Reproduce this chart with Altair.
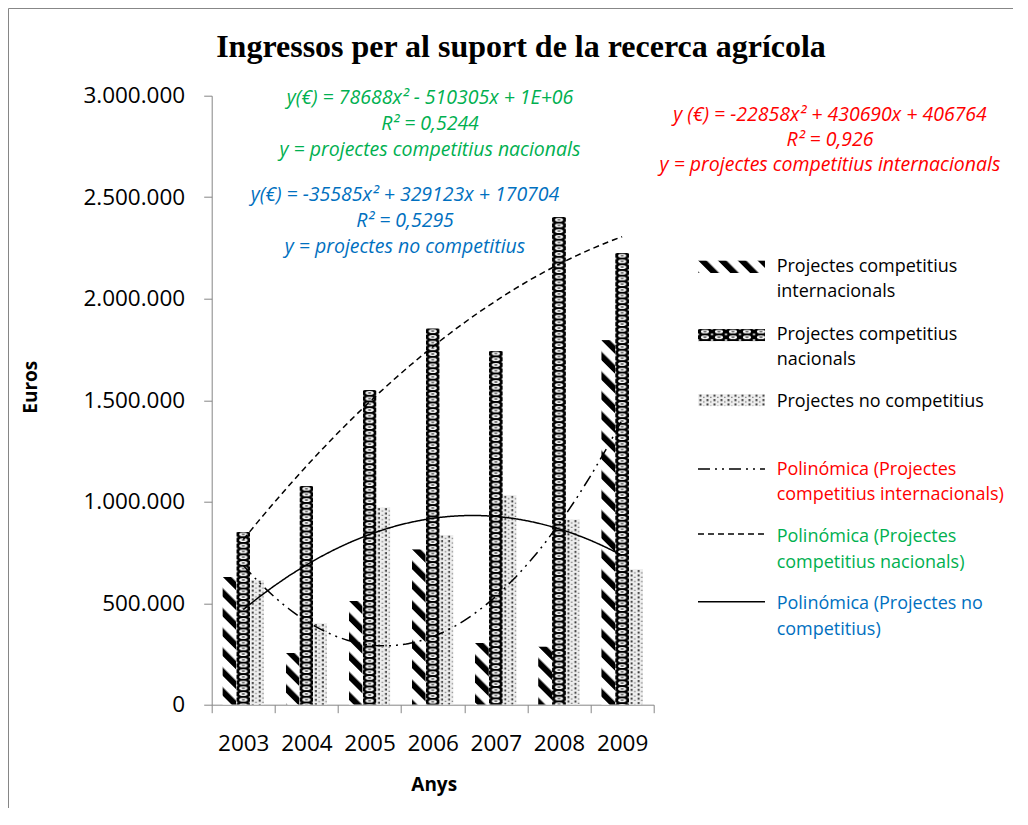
import base64
import altair as alt
import pandas as pd

# ---------------- data ----------------
years = [2003, 2004, 2005, 2006, 2007, 2008, 2009]
internacionals = [631000, 257000, 513000, 766000, 304000, 287000, 1796000]
nacionals = [853000, 1078000, 1550000, 1854000, 1744000, 2403000, 2226000]
no_competitius = [615000, 402000, 973000, 837000, 1033000, 914000, 668000]
series_names = [
    "Projectes competitius internacionals",
    "Projectes competitius nacionals",
    "Projectes no competitius",
]
y_ticks = [0, 500000, 1000000, 1500000, 2000000, 2500000, 3000000]

title_text = "Ingressos per al suport de la recerca agrícola"
eq_nac = ["y(€) = 78688x² - 510305x + 1E+06", "R² = 0,5244",
          "y = projectes competitius nacionals"]
eq_noc = ["y(€) = -35585x² + 329123x + 170704", "R² = 0,5295",
          "y = projectes no competitius"]
eq_int = ["y (€) = -22858x² + 430690x + 406764", "R² = 0,926",
          "y  = projectes competitius internacionals"]
legend_bar_labels = [["Projectes competitius", "internacionals"],
                     ["Projectes competitius", "nacionals"],
                     ["Projectes no competitius"]]
legend_trend_labels = [["Polinómica (Projectes", "competitius internacionals)"],
                       ["Polinómica (Projectes", "competitius nacionals)"],
                       ["Polinómica (Projectes no", "competitius)"]]

rows = []
for s, vals in zip(series_names, [internacionals, nacionals, no_competitius]):
    for yr, v in zip(years, vals):
        rows.append({"year": yr, "series": s, "value": v})
df = pd.DataFrame(rows)

# ---------------- styles ----------------
FONT = "Open Sans"
GREY = "#868686"
RED, GREEN, BLUE = "#FF0000", "#00B050", "#0070C0"
trend_colors = [RED, GREEN, BLUE]
dashes = [[12, 5, 2, 5, 2, 5], [6, 4], [1, 0]]


def svg_uri(inner):
    svg = ('<svg xmlns="http://www.w3.org/2000/svg"><defs>' + inner +
           '</defs><rect x="0" y="0" width="100%" height="100%" fill="url(#p)"/></svg>')
    return "data:image/svg+xml;base64," + base64.b64encode(svg.encode("utf-8")).decode()


pat_int = svg_uri(
    '<pattern id="p" width="14" height="14" patternUnits="userSpaceOnUse" '
    'patternTransform="rotate(-45)"><rect x="0" y="0" width="14" height="14" fill="#fff"/>'
    '<rect x="0" y="0" width="6" height="14" fill="#000"/></pattern>')
pat_nac = svg_uri(
    '<pattern id="p" width="14" height="5.7" patternUnits="userSpaceOnUse">'
    '<rect x="0" y="0" width="14" height="5.7" fill="#000"/>'
    '<ellipse cx="7" cy="2.85" rx="4.1" ry="1.9" fill="#fff"/>'
    '<ellipse cx="7" cy="2.85" rx="1.9" ry="0.65" fill="#333"/>'
    '<ellipse cx="0" cy="0" rx="1.5" ry="1" fill="#ccc"/>'
    '<ellipse cx="14" cy="0" rx="1.5" ry="1" fill="#ccc"/>'
    '<ellipse cx="0" cy="5.7" rx="1.5" ry="1" fill="#ccc"/>'
    '<ellipse cx="14" cy="5.7" rx="1.5" ry="1" fill="#ccc"/></pattern>')
pat_noc = svg_uri(
    '<pattern id="p" width="7" height="4.4" patternUnits="userSpaceOnUse">'
    '<rect x="0" y="0" width="7" height="4.4" fill="#eeeeee"/>'
    '<rect x="1.5" y="1" width="2" height="2" fill="#3c3c3c"/>'
    '<rect x="5" y="3.2" width="1.6" height="1.2" fill="#808080"/></pattern>')
patterns = [pat_int, pat_nac, pat_noc]
pattern_table = pd.DataFrame({"series": series_names, "img": patterns})

W, H = 442, 609

# ---------------- encodings ----------------
x_band = alt.X(
    "year:O",
    scale=alt.Scale(paddingInner=0, paddingOuter=0),
    axis=alt.Axis(
        title="Anys", labelAngle=0, tickBand="extent", tickSize=8,
        domainColor=GREY, tickColor=GREY, labelFontSize=22.5, labelColor="black",
        labelBaseline="middle", labelPadding=31, titleFontSize=19,
        titleFontWeight="bold", titleColor="black", titleX=222, titleY=80,
        titleBaseline="middle", titleAlign="center", labelFont=FONT, titleFont=FONT,
        orient="bottom",
    ),
)
x_off = alt.XOffset("series:N", scale=alt.Scale(domain=series_names, paddingInner=0, paddingOuter=0.77))
y_val = alt.Y(
    "value:Q",
    scale=alt.Scale(domain=[0, 3000000], nice=False),
    axis=alt.Axis(
        values=y_ticks,
        labelExpr="replace(replace(format(datum.value, ','), ',', '.'), ',', '.')",
        grid=False, domainColor=GREY, tickColor=GREY, tickSize=8,
        labelFontSize=22.5, labelColor="black", labelPadding=19, labelFont=FONT,
        title="Euros", titleFontSize=19, titleFontWeight="bold", titleColor="black",
        titleFont=FONT, titleX=-181.7, titleY=291, titleAngle=270,
        titleAlign="center", titleBaseline="middle",
    ),
)
x_q = alt.X("idx:Q", scale=alt.Scale(domain=[0.5, 7.5], nice=False, zero=False), axis=None)

base = alt.Chart(df)

bars = (
    base.transform_lookup(lookup="series",
                          from_=alt.LookupData(pattern_table, "series", ["img"]))
    .mark_image(aspect=False)
    .encode(x=x_band, xOffset=x_off, y=y_val, y2=alt.datum(0), url="img:N")
)

# polynomial (order 2) trend lines fitted by Vega's regression transform
trend = (
    base.transform_calculate(idx="datum.year - 2002")
    .transform_regression("idx", "value", method="poly", order=2,
                          groupby=["series"], extent=[1, 7])
    .mark_line(color="black", strokeWidth=1.5)
    .encode(
        x=x_q,
        y=alt.Y("value:Q"),
        strokeDash=alt.StrokeDash("series:N",
                                  scale=alt.Scale(domain=series_names, range=dashes),
                                  legend=None),
        detail="series:N",
    )
)


def text_layer(s, x, y, color="black", size=18, italic=False, bold=False,
               align="center", font=FONT, baseline="middle"):
    kw = dict(color=color, fontSize=size, align=align, baseline=baseline, font=font)
    if italic:
        kw["fontStyle"] = "italic"
    if bold:
        kw["fontWeight"] = "bold"
    return alt.Chart(pd.DataFrame({"t": [s]})).mark_text(**kw).encode(
        x=alt.value(x), y=alt.value(y), text="t:N")


def block(lines, x, y0, lh, **kw):
    return [text_layer(t, x, y0 + i * lh, **kw) for i, t in enumerate(lines)]


one = pd.DataFrame({"a": [0]})
extra = []
# border of the figure
extra.append(alt.Chart(one).mark_rect(fillOpacity=0, stroke=GREY, strokeWidth=1).encode(
    x=alt.value(-203.2), x2=alt.value(900), y=alt.value(-87.2), y2=alt.value(800)))
# title
extra.append(text_layer(title_text, 309.3, -38.7, size=32, bold=True,
                        font="Liberation Serif", baseline="alphabetic"))
# equations
extra += block(eq_nac, 218.3, 2.8, 25.8, color=GREEN, size=19.5, italic=True)
extra += block(eq_noc, 193.3, 99.3, 26, color=BLUE, size=19.5, italic=True)
extra += block(eq_int, 618.3, 19.3, 25, color=RED, size=19.5, italic=True)

# legend
LX0, LX1, TX = 486.3, 553.3, 565
sw_centers = [171, 239.3, 304.3]
for uri, yc in zip(patterns, sw_centers):
    extra.append(alt.Chart(one).mark_image(aspect=False).encode(
        x=alt.value(LX0), x2=alt.value(LX1), y=alt.value(yc - 6.3), y2=alt.value(yc + 6.3),
        url=alt.value(uri)))
for lines, yc in zip(legend_bar_labels, [171, 239.3, 306.6]):
    extra += block(lines, TX, yc, 25, size=18, align="left")
line_centers = [373.3, 438.3, 506]
for d, yc in zip(dashes, line_centers):
    extra.append(alt.Chart(one).mark_rule(color="black", strokeWidth=1.5, strokeDash=d).encode(
        x=alt.value(LX0), x2=alt.value(LX1), y=alt.value(yc)))
for lines, yc, c in zip(legend_trend_labels, [374.3, 441.6, 508.6], trend_colors):
    extra += block(lines, TX, yc, 25.5, size=18, align="left", color=c)

chart = (
    alt.layer(bars, trend, *extra)
    .resolve_scale(x="independent")
    .properties(
        width=W, height=H, autosize="none",
        padding={"left": 203.7, "top": 87.7, "right": 359, "bottom": 103},
        background="white",
    )
    .configure_view(strokeWidth=0)
)

chart.save("out.html", embed_options={"renderer": "svg", "actions": False})
